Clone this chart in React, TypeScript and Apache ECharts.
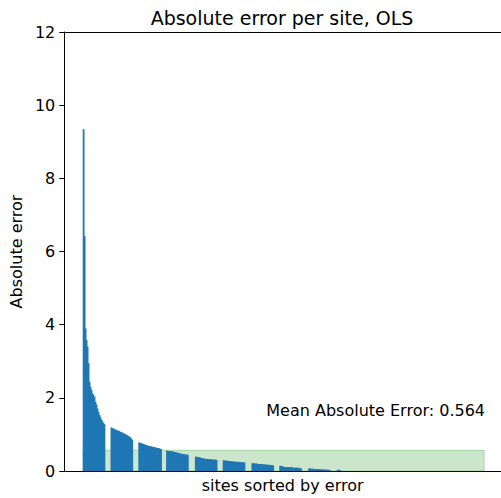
import React, { useEffect, useRef } from "react";
import * as echarts from "echarts";

// Sorted absolute errors per site.
// Each group lists consecutive sites; groupStarts gives the site index of its first entry.
const groupStarts = [0, 28, 56, 84, 113, 141, 170, 198, 227, 256];
const groupErrors: number[][] = [
  [9.34, 6.42, 3.9, 3.58, 3.4, 2.95, 2.44, 2.3, 2.21, 2.12, 2.08, 2.02, 1.89, 1.82, 1.71, 1.62, 1.53, 1.47, 1.41, 1.36, 1.31, 1.28],
  [1.19, 1.17, 1.16, 1.15, 1.13, 1.12, 1.11, 1.1, 1.09, 1.07, 1.06, 1.05, 1.03, 1.02, 1.01, 0.99, 0.98, 0.96, 0.94, 0.92, 0.89, 0.85],
  [0.78, 0.77, 0.76, 0.75, 0.74, 0.73, 0.72, 0.71, 0.7, 0.69, 0.68, 0.68, 0.67, 0.66, 0.66, 0.65, 0.64, 0.64, 0.63, 0.62, 0.62, 0.61, 0.6],
  [0.56, 0.55, 0.55, 0.54, 0.54, 0.53, 0.53, 0.52, 0.52, 0.51, 0.5, 0.5, 0.49, 0.48, 0.47, 0.47, 0.46, 0.46, 0.45, 0.45, 0.45, 0.44],
  [0.39, 0.39, 0.38, 0.38, 0.37, 0.36, 0.35, 0.35, 0.34, 0.34, 0.33, 0.33, 0.33, 0.32, 0.32, 0.32, 0.32, 0.31, 0.31, 0.31, 0.31, 0.3],
  [0.29, 0.29, 0.28, 0.28, 0.28, 0.27, 0.27, 0.27, 0.26, 0.26, 0.26, 0.26, 0.25, 0.25, 0.25, 0.25, 0.25, 0.24, 0.24, 0.24, 0.24, 0.23],
  [0.21, 0.21, 0.21, 0.2, 0.2, 0.2, 0.19, 0.19, 0.19, 0.19, 0.18, 0.18, 0.18, 0.18, 0.17, 0.17, 0.17, 0.17, 0.16, 0.16, 0.16, 0.15],
  [0.14, 0.14, 0.13, 0.12, 0.11, 0.11, 0.11, 0.1, 0.1, 0.1, 0.1, 0.1, 0.1, 0.09, 0.09, 0.09, 0.09, 0.09, 0.09, 0.08, 0.08, 0.07],
  [0.065, 0.065, 0.06, 0.06, 0.06, 0.055, 0.055, 0.05, 0.05, 0.05, 0.05, 0.045, 0.045, 0.04, 0.04, 0.04, 0.04, 0.035, 0.035, 0.035, 0.03, 0.03],
  [0.035, 0.03, 0.03],
];
const siteCount = 404;
const meanAbsoluteError = 0.564;
const yTicks = [0, 2, 4, 6, 8, 10, 12];

const titleText = "Absolute error per site, OLS";
const xLabel = "sites sorted by error";
const yLabel = "Absolute error";

const FONT = "DejaVu Sans";

export default function App() {
  const ref = useRef<HTMLDivElement>(null);

  useEffect(() => {
    document.body.style.margin = "0";
    if (!ref.current) return;
    const chart = echarts.init(ref.current, null, { renderer: "svg" });

    const barData: [number, number][] = [];
    groupErrors.forEach((g, gi) => {
      g.forEach((v, i) => barData.push([groupStarts[gi] + i, v]));
    });

    // grid is 440 px wide (61 -> 501); one site per pixel, first site centred at x = 80.5
    const xMin = -19.5;
    const xMax = 420.5;

    const axisCommon = {
      axisTick: { show: false },
      axisLabel: { show: false },
      splitLine: { show: false },
    };

    chart.setOption({
      animation: false,
      title: {
        text: titleText,
        left: 282,
        top: 8,
        padding: 0,
        textAlign: "center",
        textStyle: { fontFamily: FONT, fontSize: 19, fontWeight: "normal", color: "#000" },
      },
      grid: {
        left: 61,
        top: 32,
        right: 0,
        bottom: 27,
        show: false,
      },
      xAxis: [
        {
          type: "value",
          min: xMin,
          max: xMax,
          name: xLabel,
          nameLocation: "middle",
          nameGap: 6,
          nameTextStyle: { fontFamily: FONT, fontSize: 16, color: "#000" },
          axisLine: { show: true, onZero: false, lineStyle: { color: "#000", width: 1 } },
          ...axisCommon,
        },
        {
          type: "value",
          position: "top",
          min: xMin,
          max: xMax,
          axisLine: { show: true, onZero: false, lineStyle: { color: "#000", width: 1 } },
          ...axisCommon,
        },
      ],
      yAxis: {
        type: "value",
        min: yTicks[0],
        max: yTicks[yTicks.length - 1],
        interval: 2,
        name: yLabel,
        nameLocation: "middle",
        nameGap: 38,
        nameRotate: 90,
        nameTextStyle: { fontFamily: FONT, fontSize: 16, color: "#000" },
        axisLine: { show: true, onZero: false, lineStyle: { color: "#000", width: 1 } },
        axisTick: { show: true, length: 5, inside: false, lineStyle: { color: "#000", width: 1 } },
        axisLabel: { fontFamily: FONT, fontSize: 16, color: "#000", margin: 9 },
        splitLine: { show: false },
      },
      series: [
        {
          type: "line",
          data: [],
          z: 1,
          silent: true,
          markArea: {
            silent: true,
            itemStyle: {
              color: "rgba(0,128,0,0.2)",
              borderColor: "rgba(0,128,0,0.25)",
              borderWidth: 1,
            },
            data: [[{ coord: [-0.5, 0] }, { coord: [siteCount - 0.5, meanAbsoluteError] }]],
          },
        },
        {
          type: "bar",
          data: barData,
          barWidth: 1.8,
          z: 3,
          itemStyle: { color: "#1f77b4" },
          silent: true,
        },
      ],
      graphic: [
        {
          type: "text",
          right: 16,
          top: 402,
          style: {
            text: `Mean Absolute Error: ${meanAbsoluteError}`,
            fontFamily: FONT,
            fontSize: 16,
            fill: "#000",
          },
        },
      ],
    });

    return () => chart.dispose();
  }, []);

  return <div ref={ref} style={{ width: 501, height: 498 }} />;
}
